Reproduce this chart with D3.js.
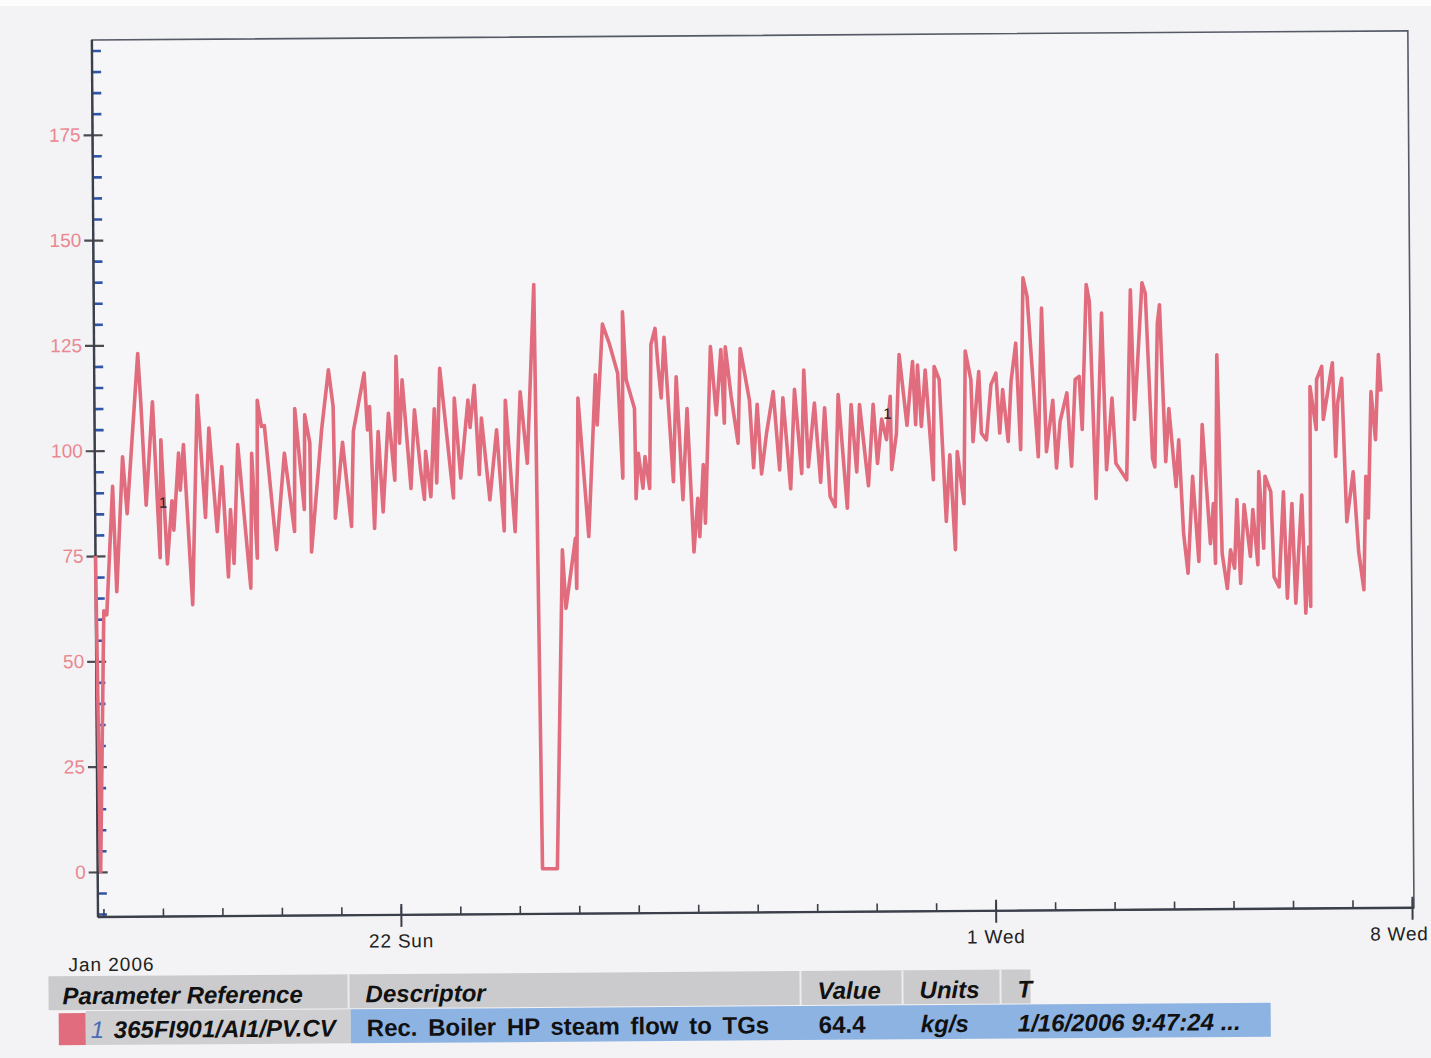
<!DOCTYPE html>
<html>
<head>
<meta charset="utf-8">
<script src="https://cdn.jsdelivr.net/npm/d3@7"></script>
<style>
  html, body { margin: 0; padding: 0; background: #fff; }
  svg { display: block; }
  text { font-family: "Liberation Sans", Arial, sans-serif; }
</style>
</head>
<body>
<svg id="chart" width="1431" height="1058"></svg>
<script>
// trend start time (see the table row)
const startTime = new Date(2006, 0, 16, 21, 47, 24);

// hours after start
const hours = [0, 1.2, 3.2, 4.4, 7.1, 8.5, 11.2, 12.9, 16.3, 17.6,
  18.7, 20.6, 23.4, 26.1, 26.7, 29.0, 31.0, 31.7, 33.8, 34.4,
  35.8, 39.1, 41.5, 44.5, 46.1, 49.2, 51.2, 53.6, 54.6, 55.9,
  57.7, 62.6, 63.3, 65.3, 65.7, 67.3, 68.5, 73.1, 76.5, 80.4,
  80.8, 84.4, 84.8, 86.8, 87.2, 91.6, 94.5, 96.3, 96.9, 100.0,
  103.4, 104.4, 108.9, 110.1, 111.0, 112.7, 114.4, 116.2, 118.6, 121.0,
  121.8, 123.0, 124.2, 127.5, 129.1, 131.5, 132.9, 133.5, 135.5, 137.1,
  137.9, 139.4, 144.6, 145.2, 147.6, 150.7, 151.5, 153.3, 155.1, 156.1,
  159.3, 162.2, 165.0, 165.8, 169.4, 171.8, 174.5, 177.6, 179.5, 185.5,
  188.4, 189.7, 193.7, 194.1, 195.1, 199.1, 202.2, 202.8, 205.2, 207.9,
  211.2, 213.0, 213.3, 214.6, 217.9, 218.3, 219.3, 221.1, 222.0, 223.8,
  224.7, 226.4, 227.4, 228.7, 230.0, 233.4, 234.8, 237.2, 239.1, 241.5,
  243.2, 243.9, 245.5, 246.2, 248.7, 250.9, 252.9, 254.1, 254.7, 256.9,
  259.6, 260.7, 264.3, 265.8, 267.4, 269.0, 271.1, 273.9, 276.3, 277.8,
  280.7, 282.5, 285.2, 286.3, 287.9, 290.5, 292.8, 294.6, 296.6, 298.6,
  300.1, 303.5, 305.3, 307.4, 308.7, 312.1, 314.2, 315.8, 317.6, 319.5,
  321.1, 321.5, 323.5, 324.8, 327.8, 330.2, 331.3, 332.2, 333.6, 335.3,
  338.3, 338.9, 340.9, 343.4, 345.0, 347.0, 348.0, 350.6, 351.5, 353.7,
  354.4, 356.9, 357.8, 359.8, 361.8, 363.8, 365.2, 366.5, 368.6, 369.9,
  371.9, 373.6, 375.0, 376.6, 380.7, 382.4, 384.0, 386.7, 388.0, 389.6,
  392.4, 394.1, 395.8, 397.4, 398.5, 400.5, 401.7, 403.9, 406.6, 408.2,
  410.6, 412.0, 416.3, 418.3, 419.6, 423.0, 424.3, 426.8, 427.7, 429.1,
  430.0, 432.1, 433.5, 436.2, 437.4, 439.1, 440.8, 442.9, 445.2, 446.9,
  449.9, 451.2, 451.9, 453.0, 454.6, 456.6, 458.0, 459.6, 460.7, 462.0,
  463.6, 466.0, 467.1, 469.0, 469.6, 471.4, 472.1, 474.4, 475.5, 477.5,
  479.5, 480.8, 482.9, 484.2, 486.9, 488.2, 489.6, 490.2, 490.5, 492.9,
  493.2, 495.3, 495.8, 499.6, 500.7, 501.6, 503.3, 505.0, 507.7, 509.7,
  511.7, 512.8, 513.7, 515.1, 516.8, 518.2, 519.1];

// steam flow, kg/s
const flow = [75, 0, 62, 61, 91.5, 66.5, 98.5, 85, 112.5, 123,
  111.5, 87, 111.5, 74.5, 102.5, 73, 88, 81, 99.3, 90.5,
  101.3, 63.3, 113, 84, 105.2, 80.6, 96, 69.8, 85.8, 73,
  101.2, 67.1, 99.1, 74.2, 111.7, 105.5, 105.7, 76.2, 99.1, 80.5,
  109.7, 85.7, 108.2, 101.5, 75.6, 104.6, 118.8, 110.1, 83.6, 101.6,
  81.6, 104.2, 118, 104.5, 110, 81.1, 104.1, 85, 108.4, 92.5,
  121.9, 101.3, 116.3, 90.5, 109.2, 94.5, 87.9, 99.3, 88.5, 109.4,
  91.8, 119, 88.2, 111.9, 92.9, 111.4, 104.9, 114.9, 93.7, 107.1,
  87.7, 104.3, 80.3, 111.3, 80.1, 113.3, 96.3, 138.7, 0, 0,
  75.7, 61.8, 78.4, 66.5, 111.7, 78.8, 117.2, 105.3, 129.2, 124.6,
  117.5, 92.6, 132.1, 116, 109.1, 87.7, 98.5, 90.2, 97.7, 90.1,
  124.3, 128.1, 119.9, 111.6, 126, 91.7, 116.6, 87.4, 109, 75,
  87.7, 78.6, 95.7, 81.8, 123.7, 107.5, 123, 105.5, 123.6, 112,
  100.7, 123.2, 110.9, 94.9, 109.9, 93.4, 103, 112.9, 94.3, 111.4,
  89.8, 113.4, 93.4, 118, 95, 110.1, 91.3, 109, 87.9, 85.5,
  112.1, 85.1, 109.7, 93.7, 109.7, 90.4, 109.7, 95.7, 106.2, 101.3,
  111.6, 94.2, 102.7, 121.5, 104.7, 119.8, 104.8, 119, 104.4, 117.8,
  91.7, 118.6, 115.5, 81.8, 97.6, 75.1, 98.4, 86, 122.2, 115.4,
  100.7, 117.3, 102.7, 101.1, 114.2, 116.9, 102.7, 113, 100.7, 114.9,
  124, 98.7, 139.5, 135.1, 97, 132.3, 98.2, 110.4, 94.3, 105.4,
  112.1, 94.7, 115.3, 116, 103.4, 137.8, 133.8, 87, 131, 93.8,
  110.8, 95.3, 91.4, 136.5, 105.7, 138.1, 135.7, 96.4, 94.4, 128.5,
  132.9, 95.6, 108.2, 89.7, 100.8, 78.6, 69.1, 92.1, 71.9, 104.4,
  76.1, 85.6, 71.4, 120.9, 73.8, 65.4, 74.6, 70.2, 86.5, 66.6,
  85.3, 73, 84.1, 71, 93.1, 74.9, 92, 88.3, 68.1, 65.7,
  88.3, 63, 85.5, 61.8, 87.5, 59.4, 75.2, 61, 113.2, 103,
  114.9, 118, 105.4, 118.8, 96.6, 109.2, 115.1, 81.1, 92.9, 73.9,
  64.9, 91.8, 81.9, 111.9, 100.5, 120.7, 111.9];

// pen number markers on the trace
const markerHours = [27.4, 319.9];
const markerValues = [87.6, 107.5];

// axis ticks
const yMajorTicks = [0, 25, 50, 75, 100, 125, 150, 175];
const yMinorTicks = d3.range(-10, 200, 5).filter(v => v % 25 !== 0);
const xMajorDates = [new Date(2006, 0, 22), new Date(2006, 1, 1), new Date(2006, 1, 8)];
const xMajorLabels = ['22 Sun', '1 Wed', '8 Wed'];
const monthLabel = 'Jan 2006';

// legend table
const tableHeaders = ['Parameter Reference', 'Descriptor', 'Value', 'Units', 'T'];
const penNumber = '1';
const tableRow = ['365FI901/AI1/PV.CV', 'Rec. Boiler HP steam flow to TGs', '64.4', 'kg/s', '1/16/2006 9:47:24 ...'];

const lineColor = '#e06c7d';

const svg = d3.select('#chart');
svg.append('rect').attr('width', 1431).attr('height', 1058).attr('fill', '#f3f3f5');
svg.append('rect').attr('width', 1431).attr('height', 6).attr('fill', '#fdfdfd');

// scanned page is a little tilted
const g = svg.append('g').attr('transform', 'rotate(-0.4,98,917)');

const plot = { left: 98, right: 1414, top: 40, bottom: 917 };

const x = d3.scaleTime()
  .domain([startTime, d3.timeHour.offset(startTime, 531)])
  .range([plot.left, plot.right]);

const y = d3.scaleLinear()
  .domain([-10.7, 197.5])
  .range([plot.bottom, plot.top]);

// plot frame
g.append('rect')
  .attr('x', plot.left).attr('y', plot.top)
  .attr('width', plot.right - plot.left)
  .attr('height', plot.bottom - plot.top)
  .attr('fill', '#f6f6f8')
  .attr('stroke', '#555a66')
  .attr('stroke-width', 1.6);

// y minor ticks (blue, inside)
const yMinor = g.append('g')
  .attr('transform', `translate(${plot.left},0)`)
  .call(d3.axisRight(y).tickValues(yMinorTicks).tickSize(9).tickFormat(''));
yMinor.select('.domain').remove();
yMinor.selectAll('line').attr('stroke', '#2f55a8').attr('stroke-width', 2.6);

// y major ticks + labels
const yMajor = g.append('g')
  .attr('transform', `translate(${plot.left},0)`)
  .call(d3.axisLeft(y).tickValues(yMajorTicks).tickSize(9).tickPadding(3).tickFormat(d3.format('d')));
yMajor.select('.domain').remove();
yMajor.selectAll('line').attr('x1', 10).attr('stroke', '#4a4a52').attr('stroke-width', 2.2);
yMajor.selectAll('text')
  .attr('fill', '#ea8791')
  .style('font-size', '19px');

// x minor ticks, one per day
const xMinor = g.append('g')
  .attr('transform', `translate(0,${plot.bottom})`)
  .call(d3.axisTop(x).ticks(d3.timeDay.every(1)).tickSize(8).tickFormat(''));
xMinor.select('.domain').remove();
xMinor.selectAll('line').attr('stroke', '#3b3f4a').attr('stroke-width', 1.6);

// x major ticks + labels
const xMajor = g.append('g')
  .attr('transform', `translate(0,${plot.bottom})`)
  .call(d3.axisBottom(x).tickValues(xMajorDates).tickSize(12).tickPadding(7)
    .tickFormat((d, i) => xMajorLabels[i]));
xMajor.select('.domain').remove();
xMajor.selectAll('line').attr('y1', -11).attr('stroke', '#3b3f4a').attr('stroke-width', 2);
xMajor.selectAll('text')
  .attr('fill', '#222')
  .style('font-size', '19px')
  .style('letter-spacing', '0.8px');
// last label sits at the page edge: keep it inside
xMajor.selectAll('text')
  .filter((d, i) => i === xMajorDates.length - 1)
  .attr('text-anchor', 'end')
  .attr('x', 1428 - x(xMajorDates[xMajorDates.length - 1]));

// axis lines
g.append('line')
  .attr('x1', plot.left).attr('x2', plot.left)
  .attr('y1', plot.top).attr('y2', plot.bottom)
  .attr('stroke', '#3b3f4a').attr('stroke-width', 2.4);
g.append('line')
  .attr('x1', plot.left).attr('x2', plot.right)
  .attr('y1', plot.bottom).attr('y2', plot.bottom)
  .attr('stroke', '#3b3f4a').attr('stroke-width', 2.4);

g.append('text')
  .attr('x', 68).attr('y', 971)
  .attr('fill', '#222')
  .style('font-size', '19px')
  .style('letter-spacing', '1px')
  .text(monthLabel);

// trace
const points = hours.map((h, i) => ({ t: d3.timeSecond.offset(startTime, Math.round(h * 3600)), v: flow[i] }));

const line = d3.line()
  .x(d => x(d.t))
  .y(d => y(d.v));

g.append('path')
  .datum(points)
  .attr('d', line)
  .attr('fill', 'none')
  .attr('stroke', lineColor)
  .attr('stroke-width', 3.6)
  .attr('stroke-linejoin', 'round');

// pen markers
g.selectAll('.pen-marker')
  .data(markerHours)
  .join('text')
  .attr('class', 'pen-marker')
  .attr('x', h => x(d3.timeSecond.offset(startTime, Math.round(h * 3600))))
  .attr('y', (h, i) => y(markerValues[i]))
  .attr('dy', '0.35em')
  .attr('text-anchor', 'middle')
  .attr('fill', '#222')
  .style('font-size', '15px')
  .text(penNumber);

// legend table
const cols = [48, 348, 800, 902, 1000, 1030];
const headerTop = 976, headerH = 34, rowTop = 1011, rowH = 34;

const table = g.append('g');
table.append('rect')
  .attr('x', cols[0]).attr('y', headerTop)
  .attr('width', cols[5] - cols[0]).attr('height', headerH)
  .attr('fill', '#cbcbcd');
table.selectAll('.sep')
  .data(cols.slice(1, 5))
  .join('line')
  .attr('class', 'sep')
  .attr('x1', d => d).attr('x2', d => d)
  .attr('y1', headerTop).attr('y2', headerTop + headerH)
  .attr('stroke', '#ececee').attr('stroke-width', 2);

table.selectAll('.hdr')
  .data(tableHeaders)
  .join('text')
  .attr('class', 'hdr')
  .attr('x', (d, i) => i === 0 ? 62 : cols[i] + 17)
  .attr('y', headerTop + 28)
  .attr('fill', '#111')
  .style('font-size', '24px')
  .style('font-weight', 'bold')
  .style('font-style', 'italic')
  .text(d => d);

// row: pen colour, reference cell, blue descriptor band
table.append('rect')
  .attr('x', 58).attr('y', rowTop + 2).attr('width', 27).attr('height', rowH - 2)
  .attr('fill', lineColor);
table.append('rect')
  .attr('x', 85).attr('y', rowTop).attr('width', cols[1] + 2 - 85).attr('height', rowH)
  .attr('fill', '#cfcfd2');
table.append('rect')
  .attr('x', cols[1] + 2).attr('y', rowTop).attr('width', 1270 - cols[1] - 2).attr('height', rowH)
  .attr('fill', '#8db3e2');

table.append('text')
  .attr('x', 90).attr('y', rowTop + 27)
  .attr('fill', '#4a6bb5')
  .style('font-size', '24px')
  .style('font-style', 'italic')
  .text(penNumber);

const rowX = [113, 366, 818, 920, 1017];
table.selectAll('.cell')
  .data(tableRow)
  .join('text')
  .attr('class', 'cell')
  .attr('x', (d, i) => rowX[i])
  .attr('y', rowTop + 27)
  .attr('fill', '#111')
  .style('font-size', '24px')
  .style('font-weight', 'bold')
  .style('font-style', (d, i) => i === 1 || i === 2 ? 'normal' : 'italic')
  .style('word-spacing', (d, i) => i === 1 ? '4px' : '0px')
  .text(d => d);
</script>
</body>
</html>
